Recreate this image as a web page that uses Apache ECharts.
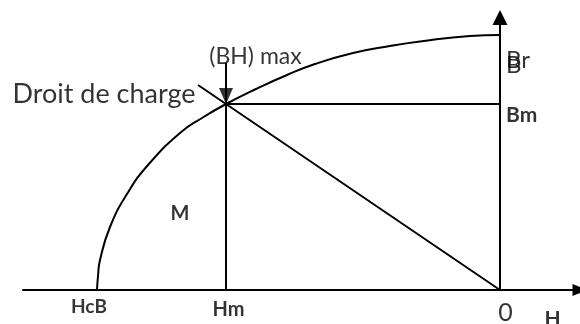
<!DOCTYPE html>
<html>
<head>
<meta charset="utf-8">
<script src="https://cdn.jsdelivr.net/npm/echarts@6/dist/echarts.min.js"></script>
<style>
    html, body { margin: 0; padding: 0; background: #fff; }
    #chart { width: 580px; height: 324px; }
</style>
</head>
<body>
<div id="chart"></div>
<script>
    // courbe de désaimantation B(H) (H négatif)
    const curveH = [-403, -402, -400, -390, -373, -352, -320, -298, -274, -244, -213, -185, -147, -110, -80, -30, 0];
    const curveB = [0, 14, 30, 63, 96, 125, 157, 172, 186, 201, 215, 226, 237, 244, 248.5, 254, 255];

    // points remarquables
    const HcB = -403;
    const Hm = -274;
    const Bm = 186;
    const Br = 255;

    // droite de charge : origine -> M -> un peu au-dela
    const loadH = [0, -274, -302];
    const loadB = [0, 186, 205];

    // flèche (BH) max : du haut jusqu'au point M
    const arrowB = [227, 186];

    // libellés des axes
    const hTickNames = ['HcB', 'Hm', '0'];
    const hTickValues = [HcB, Hm, 0];
    const bTickNames = ['Br', 'Bm'];
    const bTickValues = [Br, Bm];

    const ink = '#000';
    const font = 'Lato, "Open Sans", sans-serif';

    function pairs(xs, ys) {
        return xs.map(function (x, i) { return [x, ys[i]]; });
    }

    // un texte accroché à un point du repère
    function txt(value, text, offset, size, bold, align) {
        return {
            value: value,
            label: {
                show: true,
                position: 'inside',
                formatter: text,
                offset: offset,
                fontSize: size,
                fontWeight: bold ? 'bold' : 'normal',
                fontFamily: font,
                color: ink,
                align: align || 'center',
                verticalAlign: 'middle'
            }
        };
    }

    function seg(data, width) {
        return {
            type: 'line',
            data: data,
            symbol: 'none',
            clip: false,
            lineStyle: { color: ink, width: width || 2 },
            silent: true
        };
    }

    const labels = [
        txt([loadH[2], loadB[2]], 'Droit de charge', [-94, 9], 27, false),
        txt([Hm, Bm], '(BH) max', [29.5, -47.5], 23, false),
        txt([0, bTickValues[0]], bTickNames[0], [6, 25], 24, false, 'left'),
        txt([0, bTickValues[0]], 'B', [6, 30], 24, false, 'left'),
        txt([0, bTickValues[1]], bTickNames[1], [6, 11], 21, true, 'left'),
        txt([Hm, 0], 'M', [-46, -76.5], 20, true),
        txt([hTickValues[0], 0], hTickNames[0], [-8, 17], 19, true),
        txt([hTickValues[1], 0], hTickNames[1], [2.5, 19.5], 20, true),
        txt([hTickValues[2], 0], hTickNames[2], [5.5, 23], 25, false),
        txt([0, 0], 'H', [52.5, 29.5], 21, true)
    ];

    const chart = echarts.init(document.getElementById('chart'));
    chart.setOption({
        backgroundColor: '#fff',
        animation: false,
        grid: { left: 23, right: 0, top: 17.5, bottom: 34 },
        xAxis: {
            type: 'value',
            min: -477,
            max: 80,
            axisLine: {
                onZero: true,
                symbol: ['none', 'triangle'],
                symbolSize: [12, 15],
                lineStyle: { color: ink, width: 2 }
            },
            axisTick: { show: false },
            axisLabel: { show: false },
            splitLine: { show: false }
        },
        yAxis: {
            type: 'value',
            min: 0,
            max: 272.5,
            axisLine: {
                show: true,
                onZero: true,
                symbol: ['none', 'triangle'],
                symbolSize: [15, 15],
                lineStyle: { color: ink, width: 2 }
            },
            axisTick: { show: false },
            axisLabel: { show: false },
            splitLine: { show: false }
        },
        series: [
            Object.assign(seg(pairs(curveH, curveB)), { smooth: 0.5 }),
            seg(pairs(loadH, loadB)),
            seg([[Hm, Bm], [0, Bm]]),
            seg([[Hm, 0], [Hm, Bm]]),
            seg([[Hm, arrowB[0]], [Hm, arrowB[1]]]),
            {
                type: 'scatter',
                data: [[Hm, arrowB[1]]],
                symbol: 'triangle',
                symbolRotate: 180,
                symbolSize: [14, 16],
                symbolOffset: [0, -8],
                itemStyle: { color: ink },
                silent: true
            },
            {
                type: 'scatter',
                data: labels,
                symbolSize: 0,
                clip: false,
                silent: true
            }
        ]
    });
</script>
</body>
</html>
